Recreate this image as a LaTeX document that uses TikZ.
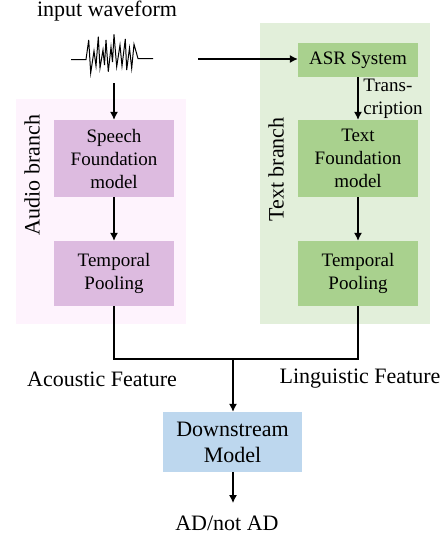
\documentclass[tikz,border=0pt]{standalone}
\usepackage{fontspec}
\setmainfont{Liberation Serif}
\usetikzlibrary{arrows.meta}
\definecolor{audiobg}{HTML}{FEF3FD}
\definecolor{audiobox}{HTML}{DDBBE0}
\definecolor{textbg}{HTML}{E2EFDA}
\definecolor{textbox}{HTML}{A9D18E}
\definecolor{downbox}{HTML}{BDD7EE}
\tikzset{
    audioblock/.style={fill=audiobox, minimum width=120pt, inner sep=0pt, align=center},
    textblock/.style={fill=textbox, minimum width=120pt, inner sep=0pt, align=center},
    branchbg/.style={minimum width=170pt, inner sep=0pt},
    biglabel/.style={font=\fontsize{22}{26}\selectfont},
    flow/.style={-{Latex[length=8pt,width=8pt]}, line width=1.1pt},
    joinline/.style={line width=1.1pt},
}
\begin{document}
\begin{tikzpicture}[x=1pt, y=-1pt, font=\fontsize{19}{23}\selectfont]
            \useasboundingbox (0,0) rectangle (446,538);
            % branch backgrounds
            \node[branchbg, fill=audiobg, minimum height=225pt] (audiobg) at (101,211.5) {};
            \node[branchbg, fill=textbg, minimum height=301pt] (textbg) at (345,173.5) {};
            \node[biglabel, rotate=90] (audiolabel) at (32,175) {Audio branch};
            \node[biglabel, rotate=90] (textlabel) at (276,169.5) {Text branch};
            % input
            \node[biglabel] (input) at (107,11) {input waveform};
            \draw[line width=1pt] (71,59.5) -- (86,59.5) -- (88.7,40) -- (90.7,73) -- (94,51) -- (96,66) -- (98.3,36.7)
                -- (100,68) -- (103,50) -- (104.5,65) -- (106,40) -- (108.3,71.7) -- (111,47) -- (112.5,62) -- (114,34.3)
                -- (116.7,66.7) -- (120,45) -- (122,66) -- (125.3,39) -- (126.7,70) -- (129.5,48) -- (131.7,68.3)
                -- (134,44.3) -- (138,58.5) -- (153,58.5);
            \coordinate (wavedown) at (114,83);
            \coordinate (waveright) at (198,59);
            % audio branch
            \node[audioblock, minimum height=77pt] (speech) at (114,158.5) {Speech\\Foundation\\model};
            \node[audioblock, minimum height=65pt] (audiopool) at (114,273.5) {Temporal\\Pooling};
            % text branch
            \node[textblock, minimum height=34pt] (asr) at (358,60) {ASR System};
            \node[textblock, minimum height=77pt] (textmodel) at (358,158.5) {Text\\Foundation\\model};
            \node[textblock, minimum height=65pt] (textpool) at (358,273.5) {Temporal\\Pooling};
            \node[align=left, inner sep=0pt] (trans) at (393,99) {Trans-\\cription};
            % output part
            \coordinate (join) at (233,359);
            \node[biglabel] (acoustic) at (102,379) {Acoustic Feature};
            \node[biglabel] (linguistic) at (360,379) {Linguistic Feature};
            \node[biglabel, fill=downbox, minimum width=139pt, minimum height=60pt, inner sep=0pt, align=center] (down) at (232.5,442) {Downstream\\Model};
            \node[biglabel] (result) at (227,523) {AD/not AD};
            \coordinate (resultin) at (233,503);
            % connectors
            \draw[flow] (wavedown) -- (speech);
            \draw[flow] (waveright) -- (waveright -| asr.west);
            \draw[flow] (speech) -- (audiopool);
            \draw[flow] (asr) -- (textmodel);
            \draw[flow] (textmodel) -- (textpool);
            \draw[joinline] (audiopool.south) |- (join);
            \draw[joinline] (textpool.south) |- (join);
            \draw[flow] (join) -- (join |- down.north);
            \draw[flow] (down.south -| resultin) -- (resultin);
        \end{tikzpicture}
\end{document}
